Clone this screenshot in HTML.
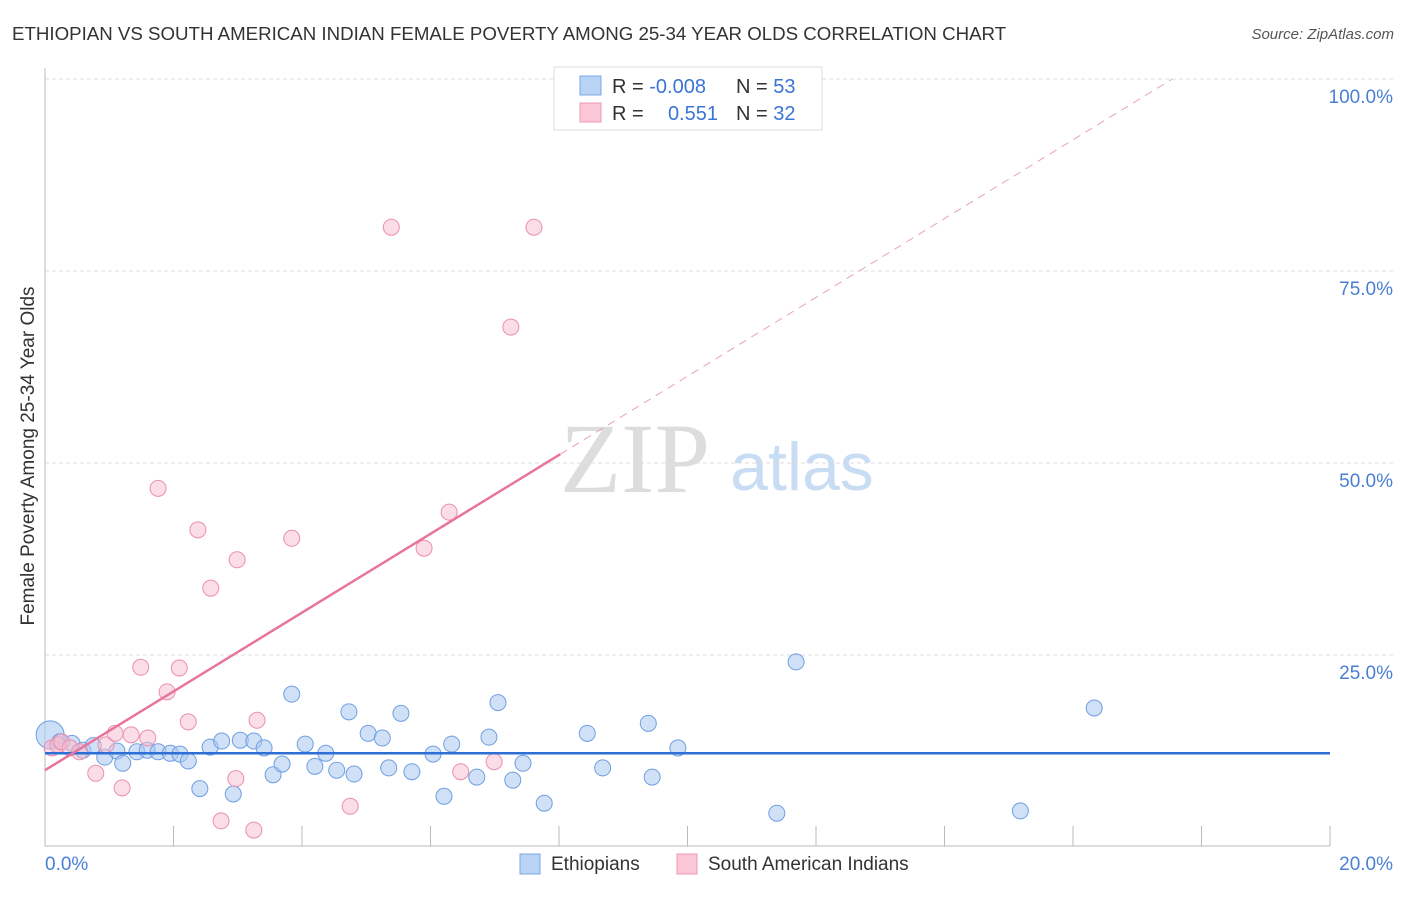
<!DOCTYPE html>
<html><head><meta charset="utf-8"><style>
body{margin:0;background:#fff;font-family:"Liberation Sans",sans-serif;}
svg text{font-family:"Liberation Sans",sans-serif;}
svg text.serif{font-family:"Liberation Serif",serif;}
</style></head><body>
<svg id="chart" width="1406" height="892">
<text x="12" y="40" font-size="18.7" fill="#333">ETHIOPIAN VS SOUTH AMERICAN INDIAN FEMALE POVERTY AMONG 25-34 YEAR OLDS CORRELATION CHART</text>
<text x="1394" y="39" font-size="15" fill="#555" font-style="italic" text-anchor="end">Source: ZipAtlas.com</text>
<text x="0" y="0" font-size="19" fill="#333" transform="translate(34,456) rotate(-90)" text-anchor="middle">Female Poverty Among 25-34 Year Olds</text>
<text class="serif" x="635" y="492" font-size="100" fill="#ddd" text-anchor="middle">ZIP</text>
<text x="802" y="490" font-size="68" fill="#c8dcf3" text-anchor="middle">atlas</text>
<g id="grid"></g><g id="marks"></g>
<g>
<rect x="554" y="67" width="268" height="63" fill="#fff" stroke="#ddd"/>
<rect x="580" y="76" width="21" height="19" fill="#b9d3f5" stroke="#7aa7e6"/>
<rect x="580" y="103" width="21" height="19" fill="#fbc6d6" stroke="#ef98b4"/>
<text x="612" y="93" font-size="20" fill="#333">R = <tspan fill="#3a74d4">-0.008</tspan></text>
<text x="736" y="93" font-size="20" fill="#333">N = <tspan fill="#3a74d4">53</tspan></text>
<text x="612" y="120" font-size="20" fill="#333">R = </text>
<text x="718" y="120" font-size="20" fill="#3a74d4" text-anchor="end">0.551</text>
<text x="736" y="120" font-size="20" fill="#333">N = <tspan fill="#3a74d4">32</tspan></text>
</g>
<g>
<rect x="520" y="854" width="20" height="20" fill="#b9d3f5" stroke="#7aa7e6"/>
<text x="551" y="870" font-size="19" fill="#333">Ethiopians</text>
<rect x="677" y="854" width="20" height="20" fill="#fbc6d6" stroke="#ef98b4"/>
<text x="708" y="870" font-size="19" fill="#333">South American Indians</text>
</g>
</svg>
<script>
const yTicks=[25,50,75,100];
const yTickLabels=["25.0%","50.0%","75.0%","100.0%"];
const xTickLabels=["0.0%","20.0%"];
const ethX=[0.08,0.23,0.42,0.59,0.75,0.93,1.12,1.21,1.43,1.59,1.76,1.95,2.10,2.23,2.41,2.57,2.75,2.93,3.04,3.25,3.41,3.55,3.69,3.84,4.05,4.20,4.37,4.54,4.73,4.81,5.03,5.25,5.35,5.54,5.71,6.04,6.21,6.33,6.72,6.91,7.05,7.28,7.44,7.77,8.44,8.68,9.39,9.45,9.85,11.39,11.69,15.18,16.33];
const ethY=[14.6,13.7,13.5,12.6,13.2,11.7,12.5,10.9,12.4,12.6,12.4,12.2,12.1,11.2,7.6,13.0,13.8,6.9,13.9,13.8,12.9,9.4,10.8,19.9,13.4,10.5,12.2,10.0,17.6,9.5,14.8,14.2,10.3,17.4,9.8,12.1,6.6,13.4,9.1,14.3,18.8,8.7,10.9,5.7,14.8,10.3,16.1,9.1,12.9,4.4,24.1,4.7,18.1];
const saiX=[0.11,0.20,0.26,0.39,0.54,0.79,0.95,1.09,1.20,1.34,1.49,1.60,1.76,1.90,2.09,2.23,2.38,2.58,2.74,2.97,2.99,3.25,3.30,3.84,4.75,5.39,5.90,6.29,6.47,6.99,7.25,7.61];
const saiY=[12.9,13.3,13.7,12.9,12.4,9.6,13.3,14.8,7.7,14.6,23.4,14.2,46.7,20.2,23.3,16.3,41.3,33.7,3.4,8.9,37.4,2.2,16.5,40.2,5.3,80.7,38.9,43.6,9.8,11.1,67.7,80.7];
const ethTrend=[12.2,12.2];
const saiIntercept=10.0, saiSlope=5.13, saiSolidEnd=8.02;

const NS="http://www.w3.org/2000/svg";
const X=v=>45+v*64.25, Y=v=>847-v*7.68;
function mk(t,a,p){const e=document.createElementNS(NS,t);for(const k in a)e.setAttribute(k,a[k]);p.appendChild(e);return e;}
const grid=document.getElementById('grid'), marks=document.getElementById('marks');
yTicks.forEach((t,i)=>{
  const l=mk('line',{x1:45,x2:1394,y1:Y(t),y2:Y(t),stroke:'#ddd','stroke-dasharray':'4,3'},grid);
  
  
  const tx=mk('text',{x:1393,y:Y(t)+24,'font-size':19,fill:'#4a7fd4','text-anchor':'end'},grid);
  tx.textContent=yTickLabels[i];
  
  
});
const ax=mk('line',{x1:45,x2:1330,y1:846,y2:846,stroke:'#bbb'},grid);


const ay=mk('line',{x1:45,x2:45,y1:68,y2:846,stroke:'#bbb'},grid);


for(let i=1;i<=10;i++){const t=mk('line',{x1:X(i*2),x2:X(i*2),y1:826,y2:846,stroke:'#bbb'},grid);
  
  }
[[0,45,'start'],[20,1393,'end']].forEach((d,i)=>{const t=mk('text',{x:d[1],y:870,'font-size':19,fill:'#4a7fd4','text-anchor':d[2]},grid);
  t.textContent=xTickLabels[i];
  
  });
ethX.forEach((x,i)=>{const c=mk('circle',{cx:X(x),cy:Y(ethY[i]),r:i==0?14:8,fill:'#a9c9f1','fill-opacity':i==0?0.6:0.55,stroke:'#6f9fe0','stroke-width':1},marks);
  
  });
saiX.forEach((x,i)=>{const c=mk('circle',{cx:X(x),cy:Y(saiY[i]),r:8,fill:'#f7bccf','fill-opacity':0.5,stroke:'#ea8fb0','stroke-width':1},marks);
  
  });
const bl=mk('line',{x1:X(0),x2:X(20),y1:Y(ethTrend[0]),y2:Y(ethTrend[1]),stroke:'#2e6fd6','stroke-width':2.5},marks);


const xEnd=(100-saiIntercept)/saiSlope;
const pl=mk('line',{x1:X(0),x2:X(saiSolidEnd),y1:Y(saiIntercept),y2:Y(saiIntercept+saiSlope*saiSolidEnd),stroke:'#e8749c','stroke-width':2.5},marks);


const pd=mk('line',{x1:X(saiSolidEnd),x2:X(xEnd),y1:Y(saiIntercept+saiSlope*saiSolidEnd),y2:Y(100),stroke:'#eaa0ba','stroke-width':1,'stroke-dasharray':'8,6'},marks);


</script>
</body></html>
